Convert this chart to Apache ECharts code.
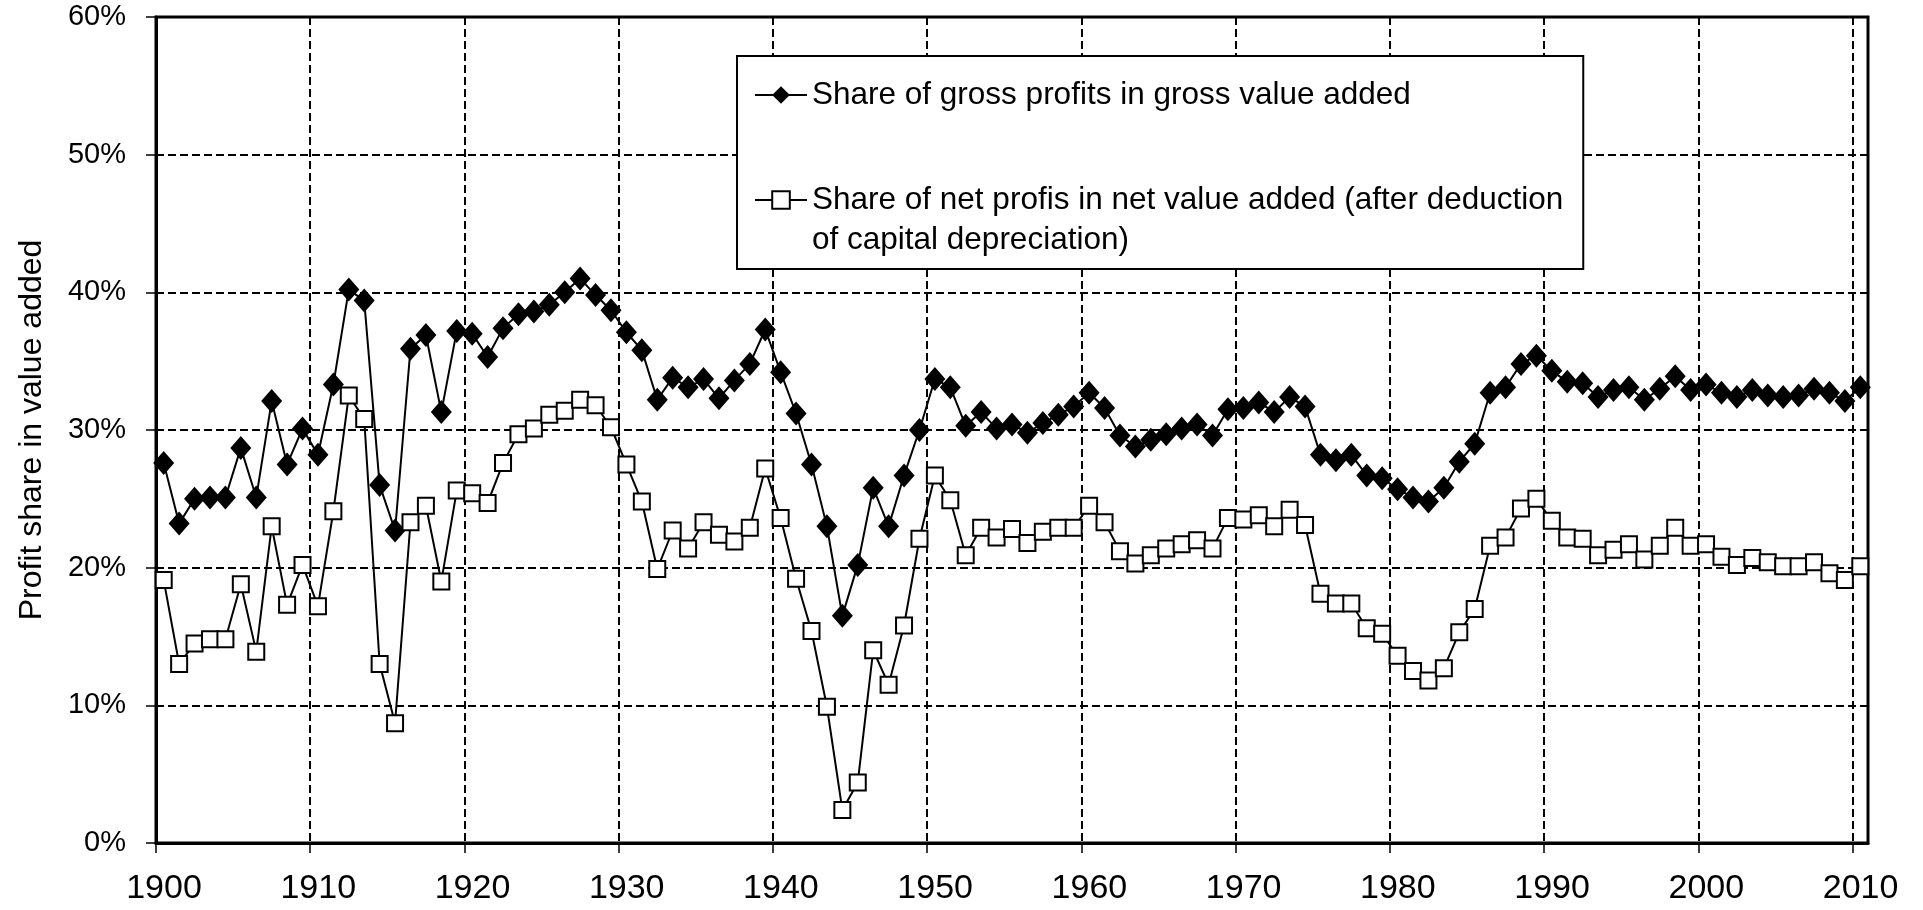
<!DOCTYPE html>
<html>
<head>
<meta charset="utf-8">
<script src="https://cdn.jsdelivr.net/npm/echarts@6/dist/echarts.min.js"></script>
<style>
html,body{margin:0;padding:0;background:#fff;}
#chart{width:1923px;height:910px;}
</style>
</head>
<body>
<div id="chart"></div>
<script>
// ---- data ----
const years = [];
for (let y = 1900; y <= 2010; y++) years.push(y);

const grossShare = [
  27.6, 23.2, 25.0, 25.1, 25.1, 28.7, 25.1, 32.1, 27.5, 30.1, // 1900-1909
  28.2, 33.3, 40.2, 39.4, 26.0, 22.7, 35.9, 36.9, 31.3, 37.2, // 1910-1919
  37.0, 35.3, 37.4, 38.4, 38.6, 39.1, 40.0, 41.0, 39.8, 38.7, // 1920-1929
  37.1, 35.8, 32.2, 33.8, 33.1, 33.7, 32.3, 33.6, 34.8, 37.3, // 1930-1939
  34.2, 31.2, 27.5, 23.0, 16.5, 20.2, 25.8, 23.0, 26.7, 30.0, // 1940-1949
  33.7, 33.1, 30.3, 31.3, 30.1, 30.4, 29.8, 30.5, 31.1, 31.7, // 1950-1959
  32.7, 31.6, 29.6, 28.8, 29.3, 29.7, 30.1, 30.4, 29.6, 31.5, // 1960-1969
  31.6, 32.0, 31.3, 32.4, 31.7, 28.2, 27.8, 28.2, 26.7, 26.5, // 1970-1979
  25.7, 25.1, 24.8, 25.8, 27.7, 29.0, 32.7, 33.1, 34.8, 35.4, // 1980-1989
  34.3, 33.5, 33.4, 32.4, 32.9, 33.1, 32.2, 33.0, 33.9, 32.9, // 1990-1999
  33.3, 32.7, 32.4, 32.9, 32.5, 32.4, 32.5, 33.0, 32.7, 32.1, // 2000-2009
  33.1                                                        // 2010
];

const netShare = [
  19.1, 13.0, 14.5, 14.8, 14.8, 18.8, 13.9, 23.0, 17.3, 20.2, // 1900-1909
  17.2, 24.1, 32.5, 30.8, 13.0,  8.7, 23.3, 24.5, 19.0, 25.6, // 1910-1919
  25.4, 24.7, 27.6, 29.7, 30.1, 31.1, 31.4, 32.2, 31.8, 30.2, // 1920-1929
  27.5, 24.8, 19.9, 22.7, 21.4, 23.3, 22.4, 21.9, 22.9, 27.2, // 1930-1939
  23.6, 19.2, 15.4,  9.9,  2.4,  4.4, 14.0, 11.5, 15.8, 22.1, // 1940-1949
  26.7, 24.9, 20.9, 22.9, 22.2, 22.8, 21.8, 22.6, 22.9, 22.9, // 1950-1959
  24.5, 23.3, 21.2, 20.3, 20.9, 21.4, 21.7, 22.0, 21.4, 23.6, // 1960-1969
  23.5, 23.8, 23.0, 24.2, 23.1, 18.1, 17.4, 17.4, 15.6, 15.2, // 1970-1979
  13.6, 12.5, 11.8, 12.7, 15.3, 17.0, 21.6, 22.2, 24.3, 25.0, // 1980-1989
  23.4, 22.2, 22.1, 20.9, 21.3, 21.7, 20.6, 21.6, 22.9, 21.6, // 1990-1999
  21.7, 20.8, 20.2, 20.7, 20.4, 20.1, 20.1, 20.4, 19.6, 19.1, // 2000-2009
  20.1                                                        // 2010
];

const grossName = 'Share of gross profits in gross value added';
const netName = 'Share of net profis in net value added (after deduction of capital depreciation)';
const yAxisTitle = 'Profit share in value added';

// ---- chart ----
const FONT = '"Liberation Sans", Arial, sans-serif';
const chart = echarts.init(document.getElementById('chart'), null, {renderer: 'canvas'});

// each yearly observation sits in the middle of its year slot
const toPoints = arr => years.map((y, i) => [y + 0.5, arr[i]]);

chart.setOption({
  animation: false,
  backgroundColor: '#fff',
  grid: {
    left: 156, right: 55, top: 17, bottom: 67,
    show: true, borderColor: '#000', borderWidth: 3, backgroundColor: 'transparent'
  },
  legend: {
    orient: 'vertical',
    left: 737, top: 56,
    padding: [19, 20, 9, 17],
    itemGap: 25,
    itemWidth: 52,
    itemHeight: 22,
    backgroundColor: '#fff',
    borderColor: '#000',
    borderWidth: 2,
    borderRadius: 0,
    textStyle: {fontSize: 31.5, lineHeight: 40, color: '#000', fontFamily: FONT},
    formatter: function (name) {
      if (name === netName) return '\n' + name.replace(' of capital', '\nof capital');
      return name;
    },
    data: [grossName, netName]
  },
  xAxis: {
    type: 'value',
    min: 1900, max: 2011, interval: 10,
    axisLine: {show: true, onZero: false, lineStyle: {color: '#000', width: 3}},
    axisTick: {show: true, length: 10, lineStyle: {color: '#000', width: 1.5}},
    axisLabel: {
      color: '#000', fontSize: 34, fontFamily: FONT, margin: 29,
      showMaxLabel: false, padding: [0, 0, 0, 16],
      formatter: v => String(v)
    },
    splitLine: {show: true, lineStyle: {color: '#000', width: 2, type: [8, 4]}}
  },
  yAxis: {
    type: 'value',
    min: 0, max: 60, interval: 10,
    name: yAxisTitle,
    nameLocation: 'middle',
    nameGap: 108,
    nameTextStyle: {color: '#000', fontSize: 32, fontFamily: FONT},
    axisLine: {show: true, lineStyle: {color: '#000', width: 3}},
    axisTick: {show: true, length: 10, lineStyle: {color: '#000', width: 1.5}},
    axisLabel: {color: '#000', fontSize: 29, fontFamily: FONT, margin: 30, formatter: '{value}%'},
    splitLine: {show: true, lineStyle: {color: '#000', width: 2, type: [8, 4]}}
  },
  series: [
    {
      name: grossName,
      type: 'line',
      data: toPoints(grossShare),
      symbol: 'diamond',
      symbolSize: [21, 24],
      showSymbol: true,
      showAllSymbol: true,
      lineStyle: {color: '#000', width: 2},
      itemStyle: {color: '#000', borderColor: '#000', borderWidth: 0},
      z: 3
    },
    {
      name: netName,
      type: 'line',
      data: toPoints(netShare),
      symbol: 'rect',
      symbolSize: 16,
      showSymbol: true,
      showAllSymbol: true,
      lineStyle: {color: '#000', width: 2},
      itemStyle: {color: '#fff', borderColor: '#000', borderWidth: 2},
      z: 3
    }
  ]
});
</script>
</body>
</html>
